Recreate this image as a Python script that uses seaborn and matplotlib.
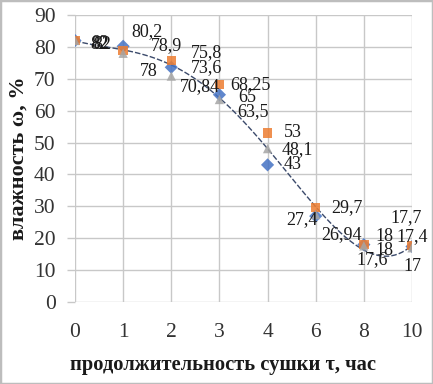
import numpy as np
import pandas as pd
import seaborn as sns
import matplotlib.pyplot as plt
from matplotlib.patches import Rectangle

# продолжительность сушки, час (категории оси X)
tau = ["0", "1", "2", "3", "4", "6", "8", "10"]

# влажность, % - три опыта
w_blue = [82, 80.2, 73.6, 65, 43, 26.94, 18, 17.4]
w_orange = [82, 78.9, 75.8, 68.25, 53, 29.7, 18, 17.7]
w_gray = [82, 78, 70.84, 63.5, 48.1, 27.4, 17.6, 17]

series_names = ["опыт 1", "опыт 2", "опыт 3"]

# сдвиги подписей данных (пиксели)
off_blue = [(24, -4), (24, 15), (35, 0), (28, -3), (25, 0), (26, -19), (21, -6), (0, 10)]
off_orange = [(27, -4), (43, 5), (35, 8), (31, 0), (25, 0), (31, 0), (21, 8), (-6, 28)]
off_gray = [(25, -3), (26, -18), (29, -10), (34, -12), (30, -1), (-14, -5), (8, -14), (0, -19)]

pos = list(range(len(tau)))
df = pd.DataFrame({
    "pos": pos * 3,
    "w": w_blue + w_orange + w_gray,
    "series": [s for s in series_names for _ in tau],
})

sns.set_theme(style="white")
plt.rcParams['font.family'] = ['Liberation Serif', 'DejaVu Serif']

fig = plt.figure(figsize=(4.33, 3.84), dpi=100)
ax = fig.add_axes([75 / 433, 82 / 384, 337 / 433, 287 / 384])

# линия тренда (полином)
sns.regplot(data=df, x="pos", y="w", order=4, scatter=False, ci=None, ax=ax,
            line_kws=dict(color="#3b4a6b", lw=1.0, ls=(0, (4, 1.5)), zorder=2))

palette = {"опыт 1": "#4472C4", "опыт 2": "#ED7D31", "опыт 3": "#A5A5A5"}
markers = {"опыт 1": "D", "опыт 2": "s", "опыт 3": "^"}
sns.scatterplot(data=df, x="pos", y="w", hue="series", style="series",
                palette=palette, markers=markers, s=45, alpha=0.85,
                edgecolor="none", legend=False, ax=ax, zorder=3)

for vals, offs in [(w_blue, off_blue), (w_orange, off_orange), (w_gray, off_gray)]:
    for i, (v, (dx, dy)) in enumerate(zip(vals, offs)):
        txt = f"{v:g}".replace(".", ",")
        ax.annotate(txt, (i, v), xytext=(dx, dy), textcoords="offset pixels",
                    ha="center", va="center", fontsize=13, color="#1a1a1a", zorder=4)

ax.set_xlim(0, len(tau) - 1)
ax.set_ylim(0, 90)
ax.set_xticks(pos)
ax.set_xticklabels(tau)
ax.set_yticks(np.arange(0, 91, 10))
ax.grid(True, color="#c8c8c8", lw=1)
ax.set_axisbelow(True)
for sp in ax.spines.values():
    sp.set_visible(False)
ax.tick_params(axis="x", length=0, pad=15, labelsize=15.5, colors="#333333")
ax.tick_params(axis="y", length=6, width=1, color="#c8c8c8", pad=8,
               labelsize=15.5, labelcolor="#333333", left=True)

ax.set_xlabel("продолжительность сушки τ, час", fontsize=14.8, fontweight="bold",
              color="#1a1a1a")
ax.set_ylabel("влажность ω, %", fontsize=16, fontweight="bold",
              labelpad=4, color="#1a1a1a")
ax.xaxis.set_label_coords(0.44, -0.185)

fig.patches.append(Rectangle((0, 0), 1, 1, transform=fig.transFigure, fill=False,
                             edgecolor="#bdbdbd", lw=2.5))

fig.savefig("out.png", dpi=100)
